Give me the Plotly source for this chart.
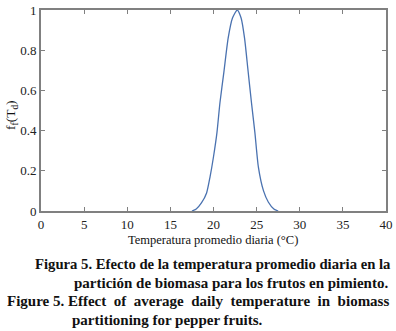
import plotly.graph_objects as go

temperature = [17.5, 18.0, 18.6, 19.2, 19.6, 20.0, 20.4, 20.75, 21.2, 21.7, 22.2, 22.75,
               23.2, 23.6, 24.0, 24.4, 24.8, 25.2, 25.8, 26.35, 27.0, 27.5]
partition = [0.0, 0.01, 0.04, 0.09, 0.17, 0.27, 0.39, 0.54, 0.69, 0.86, 0.96, 1.0,
             0.96, 0.86, 0.70, 0.54, 0.39, 0.22, 0.10, 0.045, 0.01, 0.0]

x_ticks = [0, 5, 10, 15, 20, 25, 30, 35, 40]
y_ticks = [0, 0.2, 0.4, 0.6, 0.8, 1]
y_tick_labels = ["0", "0.2", "0.4", "0.6", "0.8", "1"]

W, H = 396, 331
ML, MR, MT, MB = 41, 10, 10, 120
PW, PH = W - ML - MR, H - MT - MB
serif = "Liberation Serif, Times New Roman, serif"

fig = go.Figure()
fig.add_trace(go.Scatter(x=temperature, y=partition, mode="lines",
                         line=dict(color="#4a72b0", width=1.3, shape="spline", smoothing=0.6),
                         showlegend=False, hoverinfo="skip"))

axis_common = dict(showline=True, linecolor="#808080", linewidth=2, mirror="ticks",
                   ticks="inside", ticklen=4, tickcolor="#808080", tickwidth=1,
                   showgrid=False, zeroline=False, automargin=False,
                   tickfont=dict(family=serif, size=13, color="#222"))

fig.update_layout(
    width=W, height=H,
    margin=dict(l=ML, r=MR, t=MT, b=MB, autoexpand=False),
    paper_bgcolor="white", plot_bgcolor="white",
    font=dict(family=serif, color="#111"),
    xaxis=dict(range=[0, 40], tickvals=x_ticks, **axis_common),
    yaxis=dict(range=[0, 1], tickvals=y_ticks, ticktext=y_tick_labels, **axis_common),
)

def px_x(p):
    # page pixel -> paper (plot-area) fraction
    return (p - ML) / PW

def px_y(p):
    return (H - MB - p) / PH

ann = []
ann.append(dict(text="Temperatura promedio diaria (°C)", x=px_x(213), y=px_y(240),
                xref="paper", yref="paper", showarrow=False, xanchor="center", yanchor="middle",
                font=dict(family=serif, size=12.5, color="#111")))
ann.append(dict(text="f<sub>f</sub>(T<sub>d</sub>)", x=px_x(12), y=px_y(115),
                xref="paper", yref="paper", showarrow=False, xanchor="center", yanchor="middle",
                textangle=-90, font=dict(family=serif, size=13.5, color="#111")))

caption = [
    ("Figura 5. Efecto de la temperatura promedio diaria en la", 33, 264, 14.7),
    ("partición de biomasa para los frutos en pimiento.", 72, 283, 15),
    ("Figure 5. Effect &nbsp;of &nbsp;average &nbsp;daily &nbsp;temperature &nbsp;in &nbsp;biomass", 5, 301, 15),
    ("partitioning for pepper fruits.", 70, 320, 15),
]
for txt, xl, yc, fs in caption:
    ann.append(dict(text="<b>" + txt + "</b>", x=px_x(xl), y=px_y(yc),
                    xref="paper", yref="paper", showarrow=False, xanchor="left", yanchor="middle",
                    font=dict(family=serif, size=fs, color="#111")))

fig.update_layout(annotations=ann)
fig.write_html("out.html", config={"displayModeBar": False},
               post_script="document.body.style.margin='0';document.body.style.overflow='hidden';")
